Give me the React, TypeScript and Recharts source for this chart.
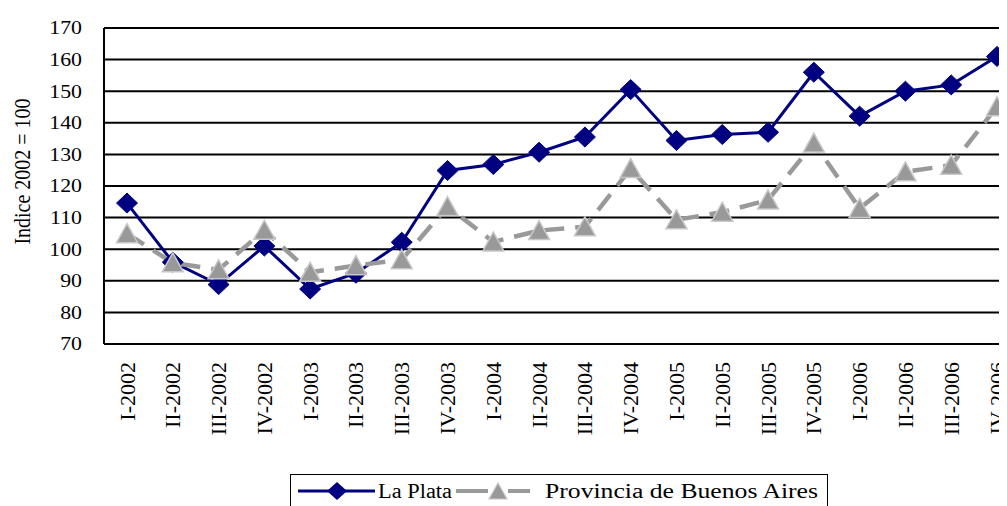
import React from 'react';
import { LineChart, Line, XAxis, YAxis, CartesianGrid, Legend } from 'recharts';

const quarters = [
  'I-2002', 'II-2002', 'III-2002', 'IV-2002',
  'I-2003', 'II-2003', 'III-2003', 'IV-2003',
  'I-2004', 'II-2004', 'III-2004', 'IV-2004',
  'I-2005', 'II-2005', 'III-2005', 'IV-2005',
  'I-2006', 'II-2006', 'III-2006', 'IV-2006',
];

const laPlata = [114.6, 95.9, 88.8, 101, 87.4, 92.4, 102.2, 124.9, 126.8, 130.7, 135.5, 150.5, 134.4, 136.3, 137, 156, 142.1, 150, 152, 161];
const provincia = [104.9, 95.7, 93.5, 106, 92.7, 94.8, 96.7, 113.5, 102.3, 105.9, 107.1, 125.5, 109.3, 111.7, 115.6, 133.6, 112.9, 124.5, 126.6, 145.1];

const yTicks = [70, 80, 90, 100, 110, 120, 130, 140, 150, 160, 170];

const NAVY = '#000080';
const GRAY = '#999999';
const FONT = '"Liberation Serif", "Times New Roman", serif';

const data = quarters.map((q, i) => ({ q, laPlata: laPlata[i], provincia: provincia[i] }));

const DiamondDot = (props: any) => {
  const { cx, cy, index } = props;
  if (cx == null || cy == null) return null;
  const w = 10.5;
  const h = 10;
  return (
    <path
      key={`dia-${index}`}
      d={`M${cx},${cy - h} L${cx + w},${cy} L${cx},${cy + h} L${cx - w},${cy} Z`}
      fill={NAVY}
      stroke={NAVY}
      strokeWidth={1}
    />
  );
};

const TriangleDot = (props: any) => {
  const { cx, cy, index } = props;
  if (cx == null || cy == null) return null;
  const w = 10.5;
  return (
    <path
      key={`tri-${index}`}
      d={`M${cx},${cy - 10} L${cx + w},${cy + 9} L${cx - w},${cy + 9} Z`}
      fill={GRAY}
      stroke="#c8c8c8"
      strokeWidth={1.5}
    />
  );
};

// y tick labels, a little wider than plain Times like the source image
const YTick = (props: any) => {
  const { x, y, payload } = props;
  return (
    <g transform={`translate(${x - 15},${y}) scale(1.15,1)`}>
      <text x={0} y={0} textAnchor="end" dominantBaseline="central" fontFamily={FONT} fontSize={19} fill="#000">
        {payload.value}
      </text>
    </g>
  );
};

const XTick = (props: any) => {
  const { x, y, payload } = props;
  return (
    <g transform={`translate(${x},${y + 18}) rotate(-90)`}>
      <text x={0} y={0} textAnchor="end" dominantBaseline="central" fontFamily={FONT} fontSize={22} fill="#000">
        {payload.value}
      </text>
    </g>
  );
};

const YLabel = (props: any) => {
  const vb = props.viewBox || {};
  const cx = 14;
  const cy = vb.y + vb.height / 2 - 14.5;
  return (
    <g transform={`translate(${cx},${cy}) scale(1.2,1) rotate(-90)`}>
      <text x={0} y={0} textAnchor="middle" dominantBaseline="central" fontFamily={FONT} fontSize={20} fill="#000">
        Indice 2002 = 100
      </text>
    </g>
  );
};

const LegendBox = () => (
  <div style={{ height: 32, marginLeft: 282, position: 'relative' }}>
    <div
      style={{
        position: 'absolute',
        left: 0,
        top: 0,
        width: 538,
        height: 36,
        border: '1.5px solid #000',
        boxSizing: 'border-box',
        background: '#fff',
      }}
    >
      <svg width={538} height={34} style={{ position: 'absolute', left: -1.5, top: -1.5 }}>
        <line x1={8} y1={17} x2={85} y2={17} stroke={NAVY} strokeWidth={3} />
        <path d="M47,8 L57,17 L47,26 L37,17 Z" fill={NAVY} />
        <text x={88} y={17} dominantBaseline="central" fontFamily={FONT} fontSize={20} fill="#000"
          textLength={74} lengthAdjust="spacingAndGlyphs">La Plata</text>
        <line x1={166} y1={17} x2={198} y2={17} stroke={GRAY} strokeWidth={4} />
        <line x1={218} y1={17} x2={240} y2={17} stroke={GRAY} strokeWidth={4} />
        <path d="M208,9 L217,25 L199,25 Z" fill={GRAY} stroke="#c8c8c8" strokeWidth={1.2} />
        <text x={255} y={17} dominantBaseline="central" fontFamily={FONT} fontSize={20} fill="#000"
          textLength={273} lengthAdjust="spacingAndGlyphs">Provincia de Buenos Aires</text>
      </svg>
    </div>
  </div>
);

export default function App() {
  return (
    <div style={{ width: 1012, height: 498, overflow: 'hidden', background: '#fff' }}>
      <style>{'body { overflow: hidden; }'}</style>
      <LineChart width={1012} height={498} data={data} margin={{ top: 20, right: 0, bottom: 0, left: 0 }}>
        <CartesianGrid vertical={false} stroke="#000" strokeWidth={2} />
        <XAxis
          dataKey="q"
          interval={0}
          height={130}
          padding={{ left: 23, right: 23 }}
          tickLine={false}
          tickSize={0}
          tickMargin={0}
          axisLine={{ stroke: '#000', strokeWidth: 2 }}
          tick={<XTick />}
        />
        <YAxis
          width={96}
          domain={[70, 170]}
          ticks={yTicks}
          interval={0}
          allowDataOverflow
          axisLine={{ stroke: '#000', strokeWidth: 2 }}
          tickLine={false}
          tickSize={5}
          tick={<YTick />}
          label={<YLabel />}
        />
        <Legend verticalAlign="bottom" content={<LegendBox />} wrapperStyle={{ left: 0, bottom: 0, width: 1012 }} />
        <Line
          type="linear"
          dataKey="laPlata"
          name="La Plata"
          stroke={NAVY}
          strokeWidth={3}
          dot={DiamondDot}
          activeDot={false}
          isAnimationActive={false}
        />
        <Line
          type="linear"
          dataKey="provincia"
          name="Provincia de Buenos Aires"
          stroke={GRAY}
          strokeWidth={4.5}
          strokeDasharray="20 11"
          dot={TriangleDot}
          activeDot={false}
          isAnimationActive={false}
        />
      </LineChart>
    </div>
  );
}
